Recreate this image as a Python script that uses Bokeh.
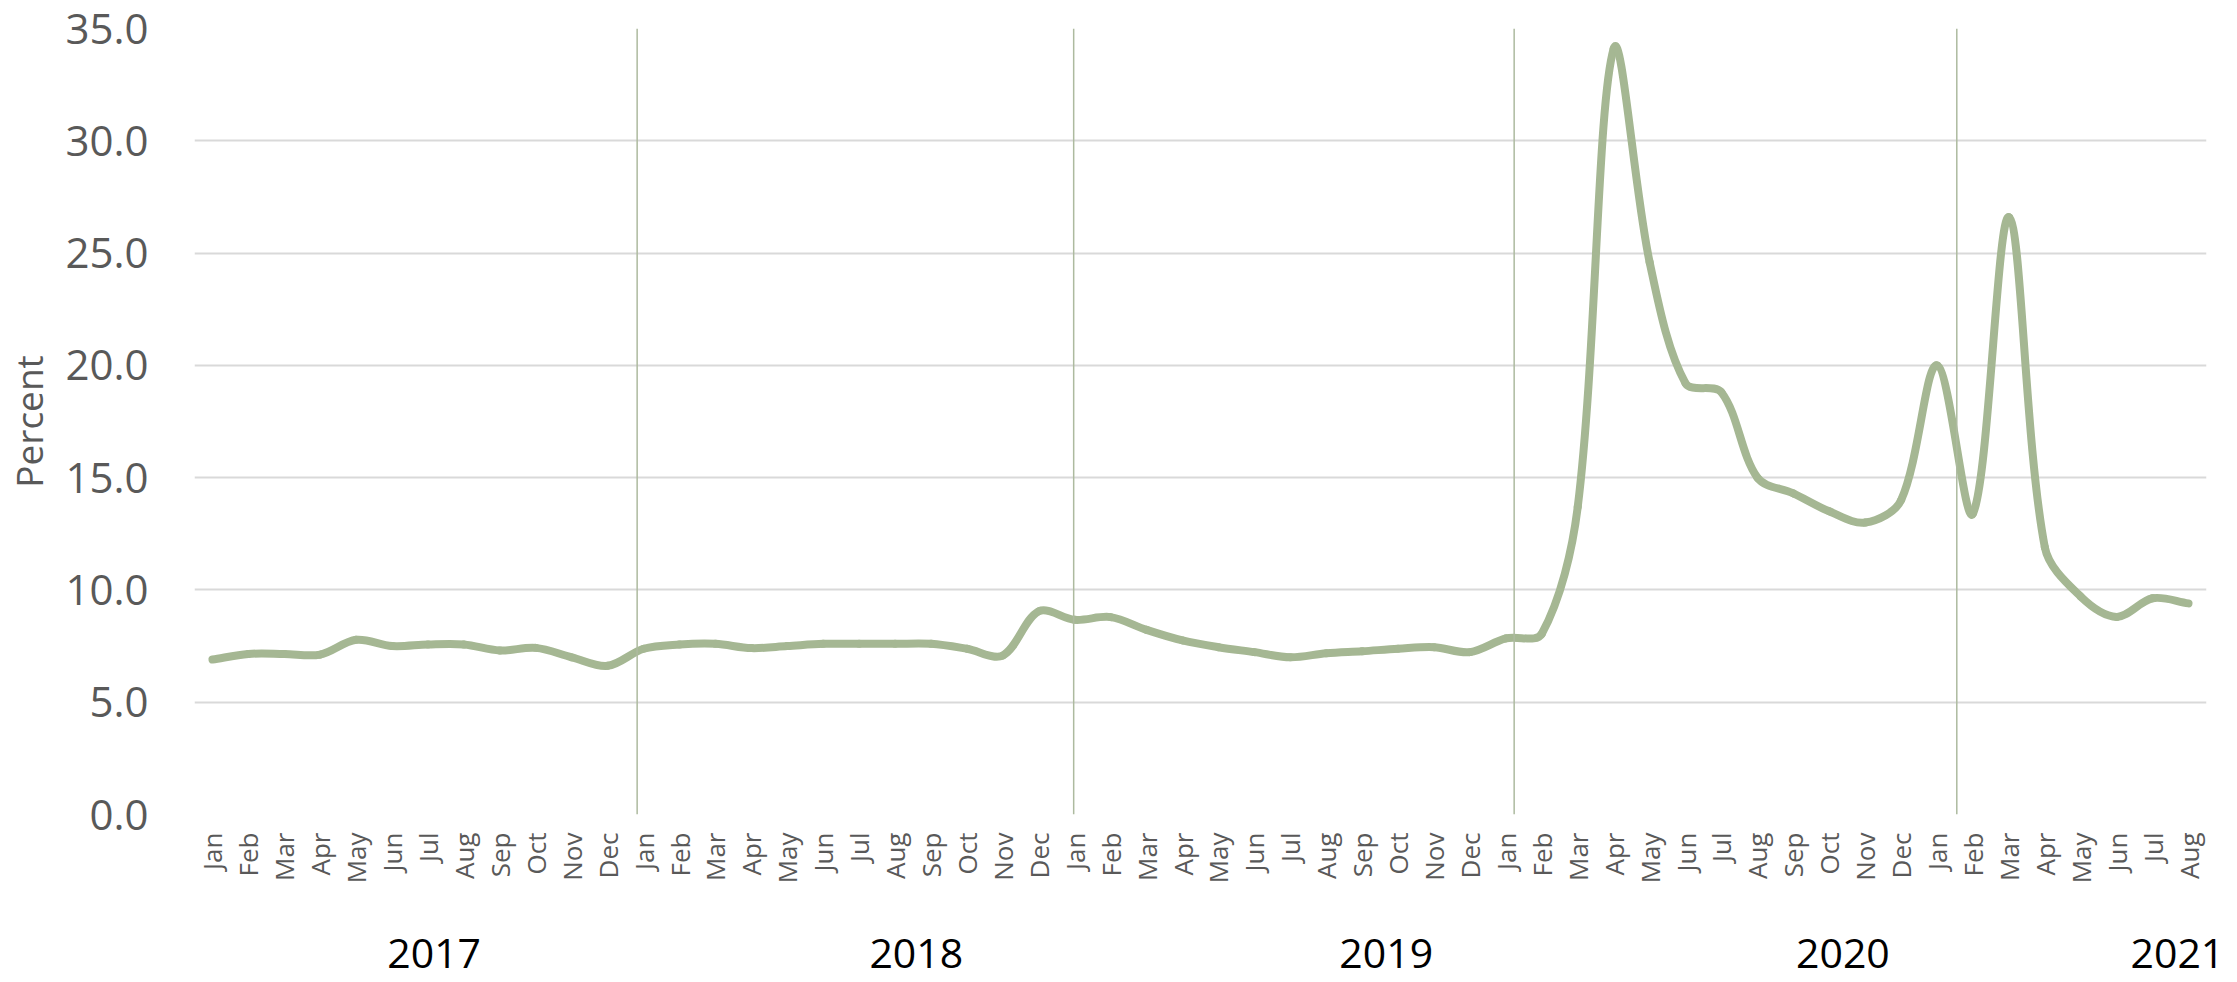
import math
import numpy as np
from bokeh.plotting import figure
from bokeh.models import Range1d, FixedTicker, NumeralTickFormatter, LinearAxis
from bokeh.embed import file_html
from bokeh.resources import INLINE

# ---- data ----
months = ["Jan", "Feb", "Mar", "Apr", "May", "Jun",
          "Jul", "Aug", "Sep", "Oct", "Nov", "Dec"]
tick_labels = months * 4 + months[:8]          # Jan 2017 .. Aug 2021
years = ["2017", "2018", "2019", "2020", "2021"]

values_2017 = [6.90, 7.15, 7.15, 7.12, 7.78, 7.50, 7.57, 7.57, 7.30, 7.42, 7.00, 6.62]
values_2018 = [7.38, 7.57, 7.60, 7.41, 7.50, 7.60, 7.60, 7.60, 7.60, 7.38, 7.08, 9.05]
values_2019 = [8.67, 8.79, 8.22, 7.75, 7.45, 7.23, 7.00, 7.18, 7.27, 7.38, 7.45, 7.23]
values_2020 = [7.84, 8.05, 13.7, 34.1, 24.6, 19.2, 18.8, 15.0, 14.3, 13.5, 13.0, 14.0]
values_2021 = [20.0, 13.4, 26.6, 11.9, 9.70, 8.80, 9.63, 9.40]
values = values_2017 + values_2018 + values_2019 + values_2020 + values_2021

y_ticks = [0, 5, 10, 15, 20, 25, 30, 35]

# ---- decoration positions (not data) ----
divider_x = [11.82, 23.97, 36.23, 48.55]
year_label_x = [6.17, 19.59, 32.67, 45.38, 54.69]

LINE = "#A5B793"
GRID = "#D9D9D9"
DIV = "#ADBA9F"
TXT = "#595959"
FONT = "Open Sans"

W, H = 2233, 980
LEFT, RIGHT, TOP, BOTTOM = 192, 27, 28, 166

p = figure(width=W, height=H, output_backend="svg", toolbar_location=None,
           x_range=Range1d(-0.5, 55.5), y_range=Range1d(0, 35),
           min_border_left=LEFT, min_border_right=RIGHT,
           min_border_top=TOP, min_border_bottom=BOTTOM,
           background_fill_color="white", border_fill_color="white")
p.outline_line_color = None

# month axis
xa = p.xaxis[0]
xa.ticker = FixedTicker(ticks=list(range(len(tick_labels))))
xa.major_label_overrides = {i: t for i, t in enumerate(tick_labels)}
xa.major_label_orientation = math.pi / 2
xa.major_label_text_font = FONT
xa.major_label_text_font_size = "26px"
xa.major_label_text_color = TXT
xa.major_label_standoff = 18
xa.axis_line_color = None
xa.major_tick_line_color = None
xa.minor_tick_line_color = None
xa.major_tick_out = 0

# year axis (second row below the months)
year_axis = LinearAxis(ticker=FixedTicker(ticks=year_label_x),
                       major_label_overrides={x: t for x, t in zip(year_label_x, years)})
year_axis.major_label_text_font = FONT
year_axis.major_label_text_font_size = "41px"
year_axis.major_label_text_color = "#000000"
year_axis.major_label_standoff = 52
year_axis.axis_line_color = None
year_axis.major_tick_line_color = None
year_axis.minor_tick_line_color = None
year_axis.major_tick_out = 0
p.add_layout(year_axis, "below")

# y axis
ya = p.yaxis[0]
ya.ticker = FixedTicker(ticks=y_ticks)
ya.formatter = NumeralTickFormatter(format="0.0")
ya.major_label_text_font = FONT
ya.major_label_text_font_size = "42px"
ya.major_label_text_color = TXT
ya.major_label_standoff = 46
ya.axis_line_color = None
ya.major_tick_line_color = None
ya.minor_tick_line_color = None
ya.major_tick_out = 0
ya.axis_label = "Percent"
ya.axis_label_text_font = FONT
ya.axis_label_text_font_size = "37px"
ya.axis_label_text_font_style = "normal"
ya.axis_label_text_color = TXT
ya.axis_label_standoff = 8

p.xgrid.grid_line_color = None
p.ygrid.ticker = FixedTicker(ticks=y_ticks)
p.ygrid.grid_line_color = GRID
p.ygrid.grid_line_width = 2

# smoothed line: Bezier segments through every data point, with control
# points scaled by neighbouring segment lengths (spreadsheet-style smoothing)
x = np.arange(len(values), dtype=float)
y = np.array(values, dtype=float)
px_x = (W - LEFT - RIGHT) / 56.0
px_y = (H - TOP - BOTTOM) / 35.0
d = np.hypot(np.diff(x) * px_x, np.diff(y) * px_y)
n = len(x)
cout_x = np.zeros(n); cout_y = np.zeros(n)
cin_x = np.zeros(n); cin_y = np.zeros(n)
for i in range(n):
    if 0 < i < n - 1:
        tx, ty = x[i + 1] - x[i - 1], y[i + 1] - y[i - 1]
        a, b = d[i - 1], d[i]
        cout_x[i] = x[i] + tx * b / (a + b) / 3.0
        cout_y[i] = y[i] + ty * b / (a + b) / 3.0
        cin_x[i] = x[i] - tx * a / (a + b) / 3.0
        cin_y[i] = y[i] - ty * a / (a + b) / 3.0
    elif i == 0:
        cout_x[i] = x[0] + (x[1] - x[0]) / 3.0
        cout_y[i] = y[0] + (y[1] - y[0]) / 3.0
    else:
        cin_x[i] = x[i] - (x[i] - x[i - 1]) / 3.0
        cin_y[i] = y[i] - (y[i] - y[i - 1]) / 3.0

p.bezier(x0=x[:-1], y0=y[:-1], x1=x[1:], y1=y[1:],
         cx0=cout_x[:-1], cy0=cout_y[:-1], cx1=cin_x[1:], cy1=cin_y[1:],
         line_color=LINE, line_width=8, line_cap="round")

# year dividers
p.segment(x0=divider_x, y0=[0] * len(divider_x), x1=divider_x, y1=[35] * len(divider_x),
          line_color=DIV, line_width=1.5)

open("out.html", "w").write(file_html(p, INLINE))
